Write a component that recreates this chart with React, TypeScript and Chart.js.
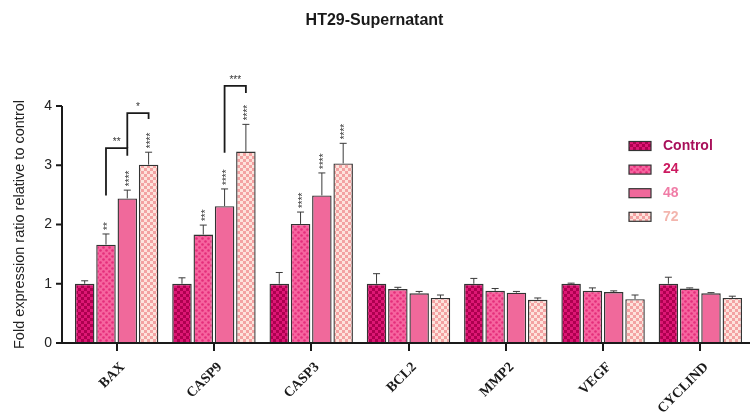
import React, { useEffect, useRef } from 'react';
import { Chart, registerables } from 'chart.js';

Chart.register(...registerables);

const categories = ['BAX', 'CASP9', 'CASP3', 'BCL2', 'MMP2', 'VEGF', 'CYCLIND'];
const seriesNames = ['Control', '24', '48', '72'];
const controlValues = [1.0, 1.0, 1.0, 1.0, 1.0, 1.0, 1.0];
const h24Values = [1.66, 1.83, 2.01, 0.91, 0.88, 0.88, 0.92];
const h48Values = [2.44, 2.31, 2.49, 0.84, 0.85, 0.86, 0.84];
const h72Values = [3.01, 3.23, 3.03, 0.76, 0.73, 0.74, 0.76];
const controlErr = [0.05, 0.1, 0.19, 0.17, 0.09, 0.01, 0.11];
const h24Err = [0.18, 0.16, 0.2, 0.03, 0.04, 0.05, 0.01];
const h48Err = [0.14, 0.29, 0.38, 0.03, 0.02, 0.02, 0.01];
const h72Err = [0.21, 0.46, 0.34, 0.05, 0.03, 0.07, 0.03];
const controlStars = ['', '', '', '', '', '', ''];
const h24Stars = ['**', '***', '****', '', '', '', ''];
const h48Stars = ['****', '****', '****', '', '', '', ''];
const h72Stars = ['****', '****', '****', '', '', '', ''];
const yTicks = [0, 1, 2, 3, 4];

// significance brackets between series within a category
const bracketCategory = [0, 0, 1];
const bracketFrom = [1, 2, 2];
const bracketTo = [2, 3, 3];
const bracketLabel = ['**', '*', '***'];
const bracketLevel = [3.29, 3.88, 4.34];
const bracketLeftEnd = [2.49, 3.29, 3.21];
const bracketRightEnd = [3.16, 3.78, 4.22];

const legendTextColors = ['#a8105a', '#cc1a60', '#f07ca6', '#f3b5ad'];

function makePattern(kind: string): CanvasPattern | string {
  const c = document.createElement('canvas');
  const x = c.getContext('2d')!;
  if (kind === 'control') {
    c.width = 6; c.height = 6;
    x.fillStyle = '#de1775';
    x.fillRect(0, 0, 6, 6);
    x.fillStyle = '#ad004f';
    x.fillRect(0, 0, 3, 3);
    x.fillRect(3, 3, 3, 3);
  } else if (kind === 'h24') {
    c.width = 6; c.height = 6;
    x.fillStyle = '#f6659f';
    x.fillRect(0, 0, 6, 6);
    x.fillStyle = '#e42e7b';
    x.beginPath(); x.arc(1.5, 1.5, 1.3, 0, Math.PI * 2); x.fill();
    x.beginPath(); x.arc(4.5, 4.5, 1.3, 0, Math.PI * 2); x.fill();
  } else if (kind === 'h72') {
    c.width = 6; c.height = 6;
    x.fillStyle = '#fde3dc';
    x.fillRect(0, 0, 6, 6);
    x.fillStyle = '#f3a2a2';
    x.fillRect(0, 0, 3, 3);
    x.fillRect(3, 3, 3, 3);
  } else {
    return '#f0699b';
  }
  return x.createPattern(c, 'repeat') as CanvasPattern;
}

export default function App() {
  const ref = useRef<HTMLCanvasElement | null>(null);

  useEffect(() => {
    document.body.style.margin = '0';
    const canvas = ref.current!;
    const fills = [makePattern('control'), makePattern('h24'), makePattern('h48'), makePattern('h72')];
    const values = [controlValues, h24Values, h48Values, h72Values];
    const errs = [controlErr, h24Err, h48Err, h72Err];
    const stars = [controlStars, h24Stars, h48Stars, h72Stars];

    const overlay = {
      id: 'overlay',
      afterDatasetsDraw(chart: any) {
        const ctx = chart.ctx;
        const ys = chart.scales.y;
        const area = chart.chartArea;
        ctx.save();
        // error bars
        ctx.strokeStyle = '#3a3a3a';
        ctx.lineWidth = 1;
        for (let i = 0; i < 4; i++) {
          const meta = chart.getDatasetMeta(i);
          meta.data.forEach((bar: any, j: number) => {
            const top = ys.getPixelForValue(values[i][j] + errs[i][j]);
            const base = ys.getPixelForValue(values[i][j]);
            ctx.beginPath();
            ctx.moveTo(bar.x, base);
            ctx.lineTo(bar.x, top);
            ctx.moveTo(bar.x - 3.5, top);
            ctx.lineTo(bar.x + 3.5, top);
            ctx.stroke();
            const s = stars[i][j];
            if (s) {
              ctx.save();
              ctx.translate(bar.x + 2.5, top - 4);
              ctx.rotate(-Math.PI / 2);
              ctx.fillStyle = '#333';
              ctx.font = '10px Arial, "Liberation Sans", sans-serif';
              ctx.textAlign = 'left';
              ctx.textBaseline = 'middle';
              ctx.fillText(s, 0, 0);
              ctx.restore();
            }
          });
        }
        // brackets
        ctx.strokeStyle = '#1a1a1a';
        ctx.lineWidth = 1.8;
        for (let k = 0; k < bracketCategory.length; k++) {
          const c = bracketCategory[k];
          const x1 = chart.getDatasetMeta(bracketFrom[k]).data[c].x;
          const x2 = chart.getDatasetMeta(bracketTo[k]).data[c].x;
          const yl = ys.getPixelForValue(bracketLevel[k]);
          ctx.beginPath();
          ctx.moveTo(x1, ys.getPixelForValue(bracketLeftEnd[k]));
          ctx.lineTo(x1, yl);
          ctx.lineTo(x2, yl);
          ctx.lineTo(x2, ys.getPixelForValue(bracketRightEnd[k]));
          ctx.stroke();
          ctx.fillStyle = '#333';
          ctx.font = '10px Arial, "Liberation Sans", sans-serif';
          ctx.textAlign = 'center';
          ctx.textBaseline = 'bottom';
          ctx.fillText(bracketLabel[k], (x1 + x2) / 2, yl - 1);
        }
        // axes lines
        const axX = area.left - 6;
        ctx.strokeStyle = '#1a1a1a';
        ctx.lineWidth = 2;
        ctx.beginPath();
        ctx.moveTo(axX, ys.getPixelForValue(yTicks[yTicks.length - 1]));
        ctx.lineTo(axX, area.bottom);
        ctx.moveTo(axX, area.bottom);
        ctx.lineTo(chart.width, area.bottom);
        yTicks.forEach((t) => {
          const py = ys.getPixelForValue(t);
          ctx.moveTo(axX - 6, py);
          ctx.lineTo(axX, py);
        });
        ctx.stroke();
        // legend
        for (let i = 0; i < 4; i++) {
          const cy = 146 + i * 23.6;
          ctx.fillStyle = fills[i] as any;
          ctx.fillRect(629, cy - 4.5, 22, 9);
          ctx.strokeStyle = '#333';
          ctx.lineWidth = 1.2;
          ctx.strokeRect(629, cy - 4.5, 22, 9);
          ctx.fillStyle = legendTextColors[i];
          ctx.font = 'bold 14px Arial, "Liberation Sans", sans-serif';
          ctx.textAlign = 'left';
          ctx.textBaseline = 'middle';
          ctx.fillText(seriesNames[i], 663, cy);
        }
        ctx.restore();
      },
    };

    const chart = new Chart(canvas, {
      type: 'bar',
      data: {
        labels: categories,
        datasets: values.map((v, i) => ({
          label: seriesNames[i],
          data: v,
          backgroundColor: fills[i] as any,
          borderColor: '#333333',
          borderWidth: 1.4,
          categoryPercentage: 0.876,
          barPercentage: 0.915,
        })),
      },
      options: {
        responsive: false,
        animation: false,
        devicePixelRatio: 1,
        layout: { padding: { top: 0, left: 0, right: 1, bottom: 0 } },
        plugins: {
          legend: { display: false },
          tooltip: { enabled: false },
          title: {
            display: true,
            text: 'HT29-Supernatant',
            color: '#1a1a1a',
            font: { family: 'Arial, "Liberation Sans", sans-serif', size: 16, weight: 'bold' },
            padding: { top: 11, bottom: 75.8 },
          },
        },
        scales: {
          x: {
            border: { display: false },
            grid: {
              display: true,
              drawOnChartArea: false,
              drawTicks: true,
              tickLength: 8,
              offset: false,
              color: '#1a1a1a',
              lineWidth: 2,
            },
            ticks: {
              color: '#1a1a1a',
              minRotation: 45,
              maxRotation: 45,
              padding: 8,
              labelOffset: 6,
              font: { family: '"Liberation Serif", "Times New Roman", serif', size: 14, weight: 'bold' },
            },
            afterFit: (s: any) => { s.height = 71; },
          },
          y: {
            min: 0,
            max: 4,
            border: { display: false },
            grid: { display: false, drawTicks: false },
            ticks: {
              stepSize: 1,
              padding: 16,
              color: '#222',
              font: { family: 'Arial, "Liberation Sans", sans-serif', size: 14 },
            },
            title: {
              display: true,
              text: 'Fold expression ratio relative to control',
              color: '#222',
              font: { family: 'Arial, "Liberation Sans", sans-serif', size: 14.5 },
              padding: { top: 11, bottom: 0 },
            },
            afterFit: (s: any) => { s.width = 68; },
          },
        },
      },
      plugins: [overlay],
    });
    return () => chart.destroy();
  }, []);

  return (
    <div style={{ width: 750, height: 414, background: '#fff' }}>
      <canvas ref={ref} width={750} height={414} style={{ display: 'block', width: 750, height: 414 }} />
    </div>
  );
}
